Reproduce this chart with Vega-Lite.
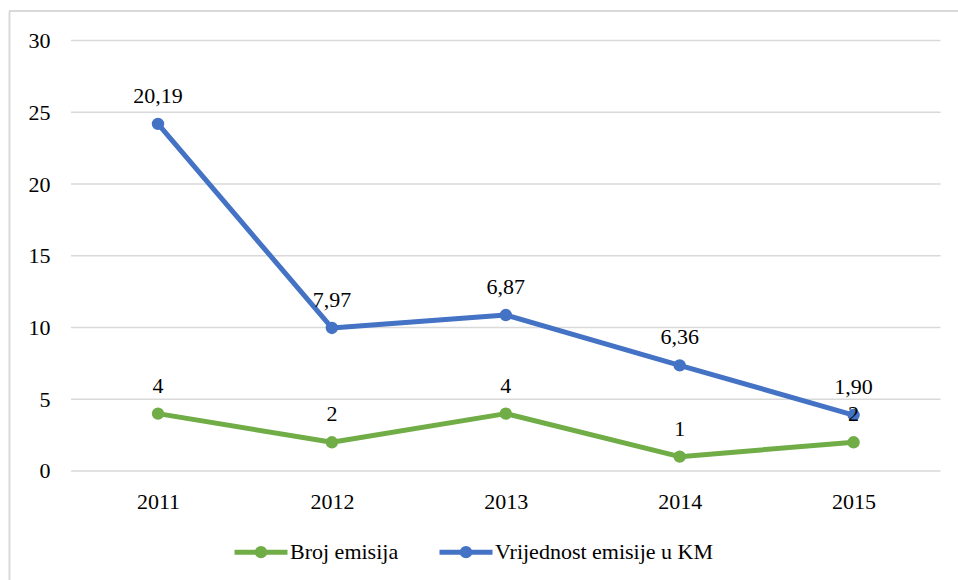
{
  "$schema": "https://vega.github.io/schema/vega-lite/v6.json",
  "width": 949,
  "height": 569,
  "autosize": {"type": "none"},
  "padding": {"left": 9, "top": 11, "right": 0, "bottom": 0},
  "background": "white",
  "config": {
    "view": {"stroke": null},
    "font": "Liberation Serif, Times New Roman, DejaVu Serif, serif",
    "text": {"font": "Liberation Serif, Times New Roman, DejaVu Serif, serif"}
  },
  "datasets": {
    "series": [
      {"year": 2011, "series": "Broj emisija", "value": 4, "label": "4"},
      {"year": 2012, "series": "Broj emisija", "value": 2, "label": "2"},
      {"year": 2013, "series": "Broj emisija", "value": 4, "label": "4"},
      {"year": 2014, "series": "Broj emisija", "value": 1, "label": "1"},
      {"year": 2015, "series": "Broj emisija", "value": 2, "label": "2"},
      {"year": 2011, "series": "Vrijednost emisije u KM", "value": 20.19, "label": "20,19"},
      {"year": 2012, "series": "Vrijednost emisije u KM", "value": 7.97, "label": "7,97"},
      {"year": 2013, "series": "Vrijednost emisije u KM", "value": 6.87, "label": "6,87"},
      {"year": 2014, "series": "Vrijednost emisije u KM", "value": 6.36, "label": "6,36"},
      {"year": 2015, "series": "Vrijednost emisije u KM", "value": 1.9, "label": "1,90"}
    ],
    "grid": [
      {"tick": 0}, {"tick": 5}, {"tick": 10}, {"tick": 15}, {"tick": 20}, {"tick": 25}, {"tick": 30}
    ]
  },
  "layer": [
    {
      "data": {"name": "grid"},
      "mark": {"type": "rule", "color": "#d9d9d9", "strokeWidth": 1.5},
      "encoding": {
        "y": {"field": "tick", "type": "quantitative"},
        "x": {"datum": 2010.5},
        "x2": {"datum": 2015.5}
      }
    },
    {
      "data": {"name": "grid"},
      "mark": {"type": "rule", "color": "#d9d9d9", "strokeWidth": 2},
      "encoding": {
        "y": {"datum": 32.056}
      }
    },
    {
      "data": {"name": "series"},
      "transform": [
        {"stack": "value", "groupby": ["year"], "sort": [{"field": "series", "order": "ascending"}], "as": ["v0", "v1"]}
      ],
      "layer": [
        {
          "mark": {
            "type": "line",
            "strokeWidth": 5,
            "strokeCap": "round",
            "strokeJoin": "round",
            "point": {"filled": true, "size": 154, "opacity": 1}
          },
          "encoding": {
            "x": {
              "field": "year",
              "type": "quantitative",
              "scale": {"domain": [2010.1432, 2015.6004], "nice": false, "zero": false},
              "axis": {
                "title": null,
                "values": [2011, 2012, 2013, 2014, 2015],
                "format": "d",
                "domain": false,
                "ticks": false,
                "tickSize": 0,
                "grid": false,
                "offset": -109,
                "labelPadding": 37,
                "labelBaseline": "alphabetic",
                "labelFont": "Liberation Serif, Times New Roman, DejaVu Serif, serif",
                "labelFontSize": 22,
                "labelColor": "#000000",
                "labelFlush": false,
                "labelOverlap": false
              }
            },
            "y": {
              "field": "v1",
              "type": "quantitative",
              "scale": {"domain": [-7.596, 32.056], "nice": false, "zero": false},
              "axis": {
                "title": null,
                "values": [0, 5, 10, 15, 20, 25, 30],
                "domain": true,
                "domainColor": "#d9d9d9",
                "domainWidth": 2,
                "ticks": false,
                "tickSize": 0,
                "grid": false,
                "labelAlign": "right",
                "labelBaseline": "middle",
                "labelPadding": -41,
                "labelFont": "Liberation Serif, Times New Roman, DejaVu Serif, serif",
                "labelFontSize": 22,
                "labelColor": "#000000",
                "labelOverlap": false,
                "labelFlush": false
              }
            },
            "color": {
              "field": "series",
              "type": "nominal",
              "scale": {
                "domain": ["Broj emisija", "Vrijednost emisije u KM"],
                "range": ["#70ad47", "#4472c4"]
              },
              "legend": {
                "title": null,
                "orient": "none",
                "direction": "horizontal",
                "columns": 2,
                "legendX": 223,
                "legendY": 512,
                "padding": 0,
                "symbolType": "M-1,0L1,0M0.14,0A0.14,0.14,0,1,1,-0.14,0A0.14,0.14,0,1,1,0.14,0Z",
                "symbolSize": 2809,
                "symbolStrokeWidth": 5,
                "labelOffset": 0,
                "columnPadding": 30,
                "labelFont": "Liberation Serif, Times New Roman, DejaVu Serif, serif",
                "labelFontSize": 22,
                "labelColor": "#000000",
                "labelLimit": 400,
                "encode": {
                  "symbols": {
                    "update": {
                      "fill": {"scale": "color", "field": "value"},
                      "stroke": {"scale": "color", "field": "value"},
                      "strokeWidth": {"value": 5},
                      "opacity": {"value": 1},
                      "fillOpacity": {"value": 1}
                    }
                  }
                }
              }
            }
          }
        },
        {
          "mark": {
            "type": "text",
            "font": "Liberation Serif, Times New Roman, DejaVu Serif, serif",
            "fontSize": 22,
            "color": "#000000",
            "baseline": "alphabetic",
            "align": "center",
            "dy": -21
          },
          "encoding": {
            "x": {"field": "year", "type": "quantitative"},
            "y": {"field": "v1", "type": "quantitative"},
            "text": {"field": "label", "type": "nominal"}
          }
        }
      ]
    }
  ]
}
